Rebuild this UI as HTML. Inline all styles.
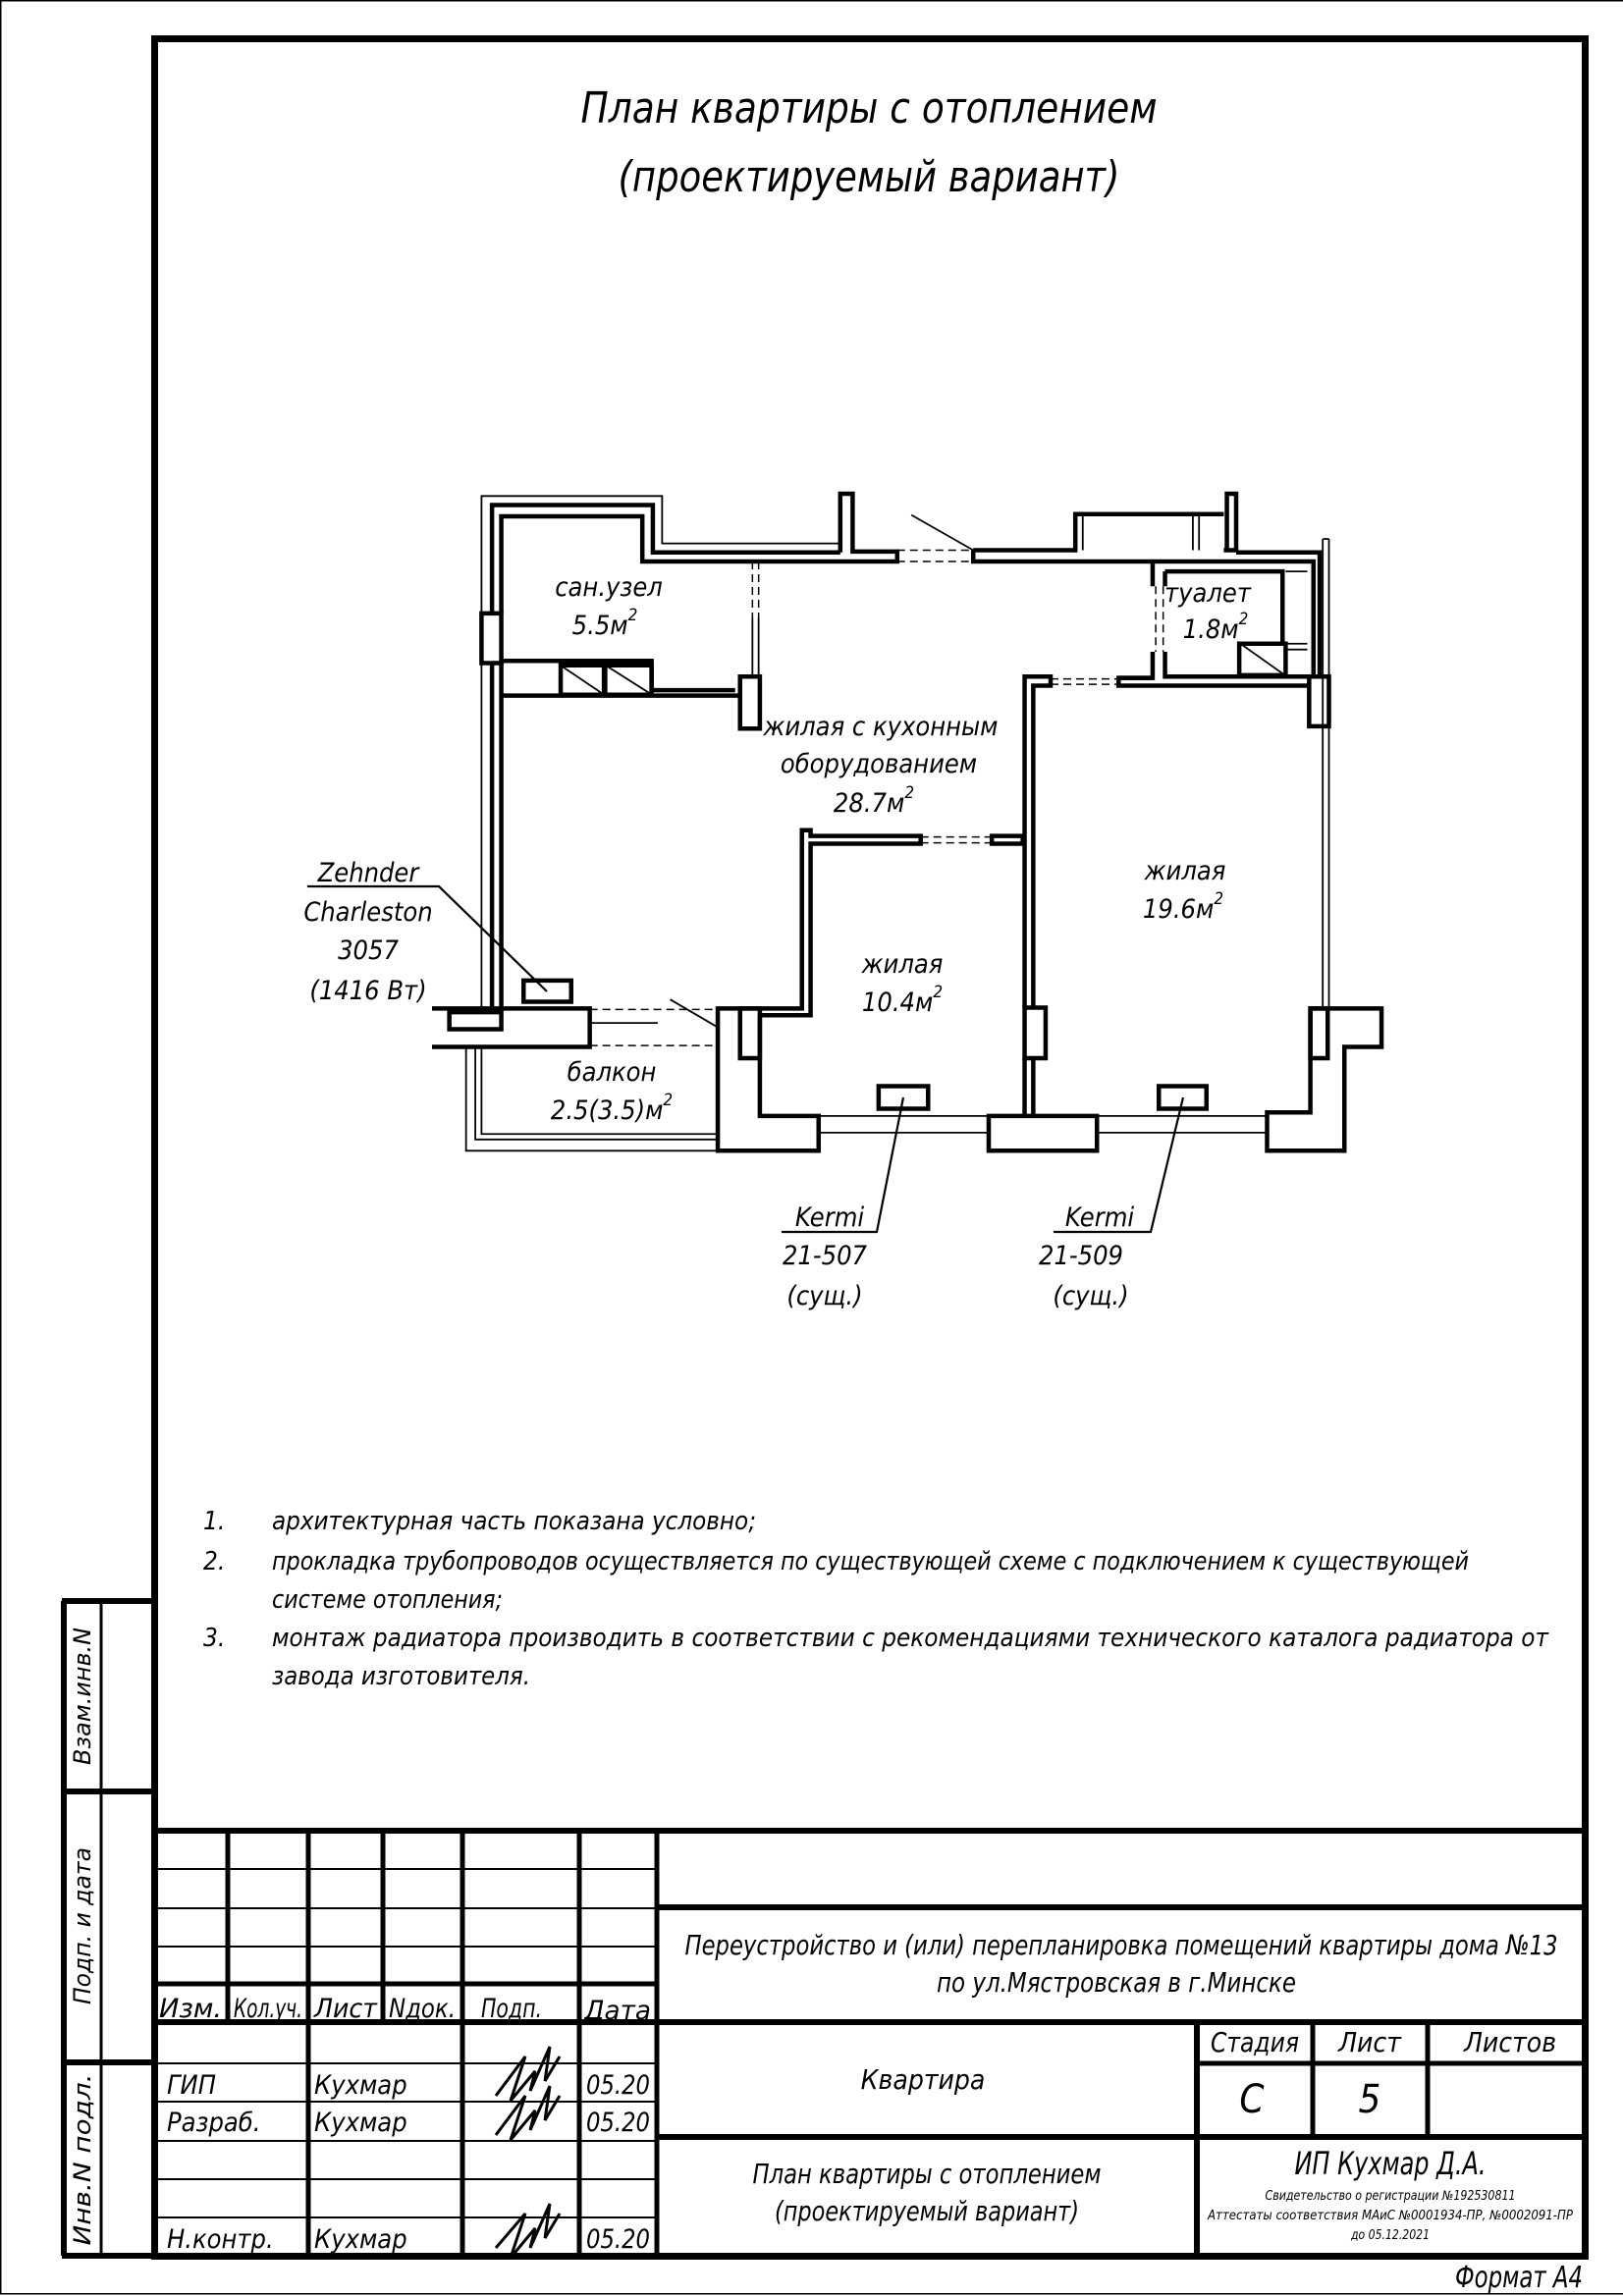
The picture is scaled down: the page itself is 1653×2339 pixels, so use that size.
<!DOCTYPE html>
<html><head><meta charset="utf-8"><style>
html,body{margin:0;padding:0;background:#fff}
svg{display:block}
text{font-family:"DejaVu Sans Condensed","Liberation Sans Narrow","Liberation Sans",sans-serif;font-style:italic;fill:#000}
</style></head><body>
<svg width="1653" height="2339" viewBox="0 0 1653 2339" xmlns="http://www.w3.org/2000/svg">
<!-- page border -->
<rect x="0.75" y="0.75" width="1660" height="2336" fill="none" stroke="#000" stroke-width="1.5"/>
<!-- main frame -->
<rect x="157.5" y="39.5" width="1457" height="2259" fill="none" stroke="#000" stroke-width="7"/>

<!-- title -->
<text x="885" y="125" font-size="44" text-anchor="middle" textLength="587" lengthAdjust="spacingAndGlyphs">План квартиры с отоплением</text>
<text x="885" y="195" font-size="44" text-anchor="middle" textLength="511" lengthAdjust="spacingAndGlyphs">(проектируемый вариант)</text>

<!-- PLAN -->
<g transform="translate(440,480) scale(0.63,0.46)" fill="none" stroke="#000">
 <g stroke-width="4.5" vector-effect="non-scaling-stroke">
  <path vector-effect="non-scaling-stroke" d="M97,315 V75 H357 V180 H660"/>
  <path vector-effect="non-scaling-stroke" d="M112,315 V100 H340 V200 H752 V178 H680 V50 H660 V180"/>
  <rect vector-effect="non-scaling-stroke" x="80" y="315" width="32" height="110"/>
  <path vector-effect="non-scaling-stroke" d="M97,425 V1190 M112,425 V1190"/>
  <path vector-effect="non-scaling-stroke" d="M112,420 H355 V485 H490 M112,497 H498"/>
  <rect vector-effect="non-scaling-stroke" x="498" y="455" width="32" height="115"/>
  <path vector-effect="non-scaling-stroke" d="M875,175 V200 H1165 M875,175 H1040 M1280,175 H1300 V50 H1285 V175"/>
  <path vector-effect="non-scaling-stroke" d="M1040,180 V95 H1280"/>
  <path vector-effect="non-scaling-stroke" d="M1300,180 H1435 V455 M1165,200 V255 M1185,222 V255 M1165,200 H1425 V455 M1185,222 H1375 V380"/>
  <path vector-effect="non-scaling-stroke" d="M1165,400 V458 H1110 V475 H1418 M1185,400 V455 H1418"/>
  <rect vector-effect="non-scaling-stroke" x="1418" y="455" width="32" height="110"/>
  <path vector-effect="non-scaling-stroke" d="M958,1188 V455 H1000 V475 H972 V1188"/>
  <rect vector-effect="non-scaling-stroke" x="958" y="1188" width="34" height="112"/>
  <path vector-effect="non-scaling-stroke" d="M958,1300 V1425 M972,1300 V1425"/>
  <path vector-effect="non-scaling-stroke" d="M1110,458 H1165"/>
  <path vector-effect="non-scaling-stroke" d="M530,1205 H612 V825 H790 V808 H612 V795 H598 V1190 H462 V1505 H625 V1428 H530 V1205"/>
  <rect vector-effect="non-scaling-stroke" x="498" y="1190" width="32" height="110"/>
  <path vector-effect="non-scaling-stroke" d="M905,808 H955 V825 H905 Z"/>
  <rect vector-effect="non-scaling-stroke" x="900" y="1428" width="175" height="77"/>
  <path vector-effect="non-scaling-stroke" d="M1350,1505 V1420 H1420 V1190 H1535 V1275 H1475 V1505 Z"/>
  <rect vector-effect="non-scaling-stroke" x="1420" y="1190" width="28" height="110"/>
  <path vector-effect="non-scaling-stroke" d="M0,1190 H255 V1275 H0"/>
  <rect vector-effect="non-scaling-stroke" x="28" y="1198" width="84" height="38"/>
  <rect vector-effect="non-scaling-stroke" x="148" y="1128" width="77" height="47"/>
  <rect vector-effect="non-scaling-stroke" x="722" y="1362" width="80" height="50"/>
  <rect vector-effect="non-scaling-stroke" x="1175" y="1362" width="77" height="50"/>
  <rect vector-effect="non-scaling-stroke" x="208" y="430" width="70" height="65"/>
  <rect vector-effect="non-scaling-stroke" x="280" y="430" width="75" height="65"/>
  <rect vector-effect="non-scaling-stroke" x="1305" y="382" width="75" height="70"/>
 </g>
 <g stroke-width="1.8">
  <path vector-effect="non-scaling-stroke" d="M80,315 V55 H372 V160 H660"/>
  <path vector-effect="non-scaling-stroke" d="M80,425 V1190"/>
  <path vector-effect="non-scaling-stroke" d="M518,325 V455 M528,325 V455"/>
  <path vector-effect="non-scaling-stroke" d="M1052,100 V175 M1230,100 V175 M1240,100 V175"/>
  <path vector-effect="non-scaling-stroke" d="M1440,150 V1190 M1450,150 V1190 M1440,150 H1450"/>
  <path vector-effect="non-scaling-stroke" d="M1380,382 H1415 M1380,395 H1415 M1380,222 H1415"/>
  <path vector-effect="non-scaling-stroke" d="M210,432 L275,492 M283,432 L352,492 M1310,385 L1375,448"/>
  <path vector-effect="non-scaling-stroke" d="M625,1465 H900 M1075,1465 H1350 M625,1428 H900 M1075,1428 H1350"/>
  <path vector-effect="non-scaling-stroke" d="M55,1275 V1505 H470 M70,1275 V1480 H462 M80,1275 V1468 H462"/>
  <path vector-effect="non-scaling-stroke" d="M255,1222 H365"/>
  <path vector-effect="non-scaling-stroke" d="M775,97 L875,175 M385,1170 L460,1230"/>
  <path vector-effect="non-scaling-stroke" d="M740,1420 L740,1420"/>
 </g>
 <g stroke-width="1.5" stroke-dasharray="8,5">
  <path vector-effect="non-scaling-stroke" d="M752,175 H875 M752,200 H875"/>
  <path vector-effect="non-scaling-stroke" d="M518,200 V325 M528,200 V325"/>
  <path vector-effect="non-scaling-stroke" d="M1170,255 V400 M1182,255 V400"/>
  <path vector-effect="non-scaling-stroke" d="M1000,460 H1110 M1000,472 H1110"/>
  <path vector-effect="non-scaling-stroke" d="M790,810 H905 M790,823 H905"/>
  <path vector-effect="non-scaling-stroke" d="M255,1192 H462 M255,1272 H462"/>
 </g>
</g>

<!-- leaders -->
<g stroke="#000" stroke-width="2.2" fill="none">
 <path d="M313,903 H447 L557,1010"/>
 <path d="M796,1255 H893 L920,1118"/>
 <path d="M1073,1255 H1172 L1205,1118"/>
</g>

<!-- plan labels -->
<g font-size="27" text-anchor="middle">
 <text x="375" y="898">Zehnder</text>
 <text x="375" y="938">Charleston</text>
 <text x="375" y="977">3057</text>
 <text x="375" y="1018">(1416 Вт)</text>
 <text x="845" y="1249">Kermi</text>
 <text x="840" y="1288">21-507</text>
 <text x="840" y="1329">(сущ.)</text>
 <text x="1120" y="1249">Kermi</text>
 <text x="1101" y="1288">21-509</text>
 <text x="1111" y="1329">(сущ.)</text>
 <text x="620" y="607">сан.узел</text>
 <text x="616" y="646">5.5м<tspan font-size="17" dy="-14">2</tspan></text>
 <text x="1230" y="613">туалет</text>
 <text x="1238" y="650">1.8м<tspan font-size="17" dy="-14">2</tspan></text>
 <text x="897" y="749">жилая с кухонным</text>
 <text x="895" y="787">оборудованием</text>
 <text x="890" y="827">28.7м<tspan font-size="17" dy="-14">2</tspan></text>
 <text x="1207" y="896">жилая</text>
 <text x="1205" y="935">19.6м<tspan font-size="17" dy="-14">2</tspan></text>
 <text x="919" y="991">жилая</text>
 <text x="919" y="1030">10.4м<tspan font-size="17" dy="-14">2</tspan></text>
 <text x="623" y="1101">балкон</text>
 <text x="623" y="1140">2.5(3.5)м<tspan font-size="17" dy="-14">2</tspan></text>
</g>

<!-- notes -->
<g font-size="26">
 <text x="207" y="1558">1.</text>
 <text x="207" y="1599">2.</text>
 <text x="207" y="1677">3.</text>
 <text x="277" y="1558" textLength="493" lengthAdjust="spacingAndGlyphs">архитектурная часть показана условно;</text>
 <text x="277" y="1599" textLength="1219" lengthAdjust="spacingAndGlyphs">прокладка трубопроводов осуществляется по существующей схеме с подключением к существующей</text>
 <text x="277" y="1638" textLength="235" lengthAdjust="spacingAndGlyphs">системе отопления;</text>
 <text x="277" y="1677" textLength="1300" lengthAdjust="spacingAndGlyphs">монтаж радиатора производить в соответствии с рекомендациями технического каталога радиатора от</text>
 <text x="277" y="1716" textLength="263" lengthAdjust="spacingAndGlyphs">завода изготовителя.</text>
</g>

<!-- left strip -->
<g stroke="#000" fill="none">
 <path d="M65,1631 V2298" stroke-width="6"/>
 <path d="M103,1631 V2298" stroke-width="3"/>
 <path d="M63,1631 H157 M63,1825 H157 M63,2101 H157 M63,2298 H157" stroke-width="6"/>
</g>
<g font-size="24" text-anchor="middle">
 <text transform="translate(92,1728) rotate(-90)" textLength="140" lengthAdjust="spacingAndGlyphs">Взам.инв.N</text>
 <text transform="translate(92,1962) rotate(-90)" textLength="160" lengthAdjust="spacingAndGlyphs">Подп. и дата</text>
 <text transform="translate(92,2200) rotate(-90)" textLength="175" lengthAdjust="spacingAndGlyphs">Инв.N подл.</text>
</g>

<!-- title block -->
<g stroke="#000" fill="none">
 <path d="M155,1865 H1614" stroke-width="6"/>
 <path d="M232,1865 V2060 M390,1865 V2060" stroke-width="5"/>
 <path d="M314,1865 V2298 M471,1865 V2298 M590,1865 V2298 M669,1865 V2298" stroke-width="5"/>
 <path d="M155,1904 H669 M155,1944 H669 M155,1983 H669" stroke-width="2"/>
 <path d="M155,2021 H669" stroke-width="5"/>
 <path d="M155,2060 H1614" stroke-width="6"/>
 <path d="M669,1943 H1614" stroke-width="6"/>
 <path d="M155,2102 H669 M155,2141 H669 M155,2181 H669 M155,2220 H669 M155,2259 H669" stroke-width="2"/>
 <path d="M669,2177 H1614" stroke-width="6"/>
 <path d="M1219,2060 V2298" stroke-width="6"/>
 <path d="M1219,2102 H1614" stroke-width="5"/>
 <path d="M1337,2060 V2177 M1454,2060 V2177" stroke-width="5"/>
</g>
<g font-size="27">
 <text x="162" y="2055" textLength="64" lengthAdjust="spacingAndGlyphs">Изм.</text>
 <text x="238" y="2055" textLength="70" lengthAdjust="spacingAndGlyphs">Кол.уч.</text>
 <text x="320" y="2055" textLength="64" lengthAdjust="spacingAndGlyphs">Лист</text>
 <text x="396" y="2055" textLength="68" lengthAdjust="spacingAndGlyphs">Nдок.</text>
 <text x="490" y="2055" textLength="62" lengthAdjust="spacingAndGlyphs">Подп.</text>
 <text x="595" y="2057" textLength="68" lengthAdjust="spacingAndGlyphs">Дата</text>
 <text x="170" y="2133">ГИП</text>
 <text x="170" y="2171">Разраб.</text>
 <text x="170" y="2290">Н.контр.</text>
 <text x="320" y="2133">Кухмар</text>
 <text x="320" y="2171">Кухмар</text>
 <text x="320" y="2290">Кухмар</text>
 <text x="597" y="2133" textLength="65" lengthAdjust="spacingAndGlyphs">05.20</text>
 <text x="597" y="2171" textLength="65" lengthAdjust="spacingAndGlyphs">05.20</text>
 <text x="597" y="2290" textLength="65" lengthAdjust="spacingAndGlyphs">05.20</text>
</g>
<g stroke="#000" stroke-width="3" fill="none">
 <path d="M505,2135 L535,2095 L520,2140 L545,2110 L540,2130 L560,2085 L555,2120 L570,2095"/>
 <path d="M505,2175 L535,2135 L520,2180 L545,2150 L540,2170 L560,2125 L555,2160 L570,2135"/>
 <path d="M505,2290 L535,2255 L520,2300 L545,2270 L540,2290 L560,2245 L555,2280 L570,2255"/>
</g>
<g font-size="28" text-anchor="middle">
 <text x="1142" y="1991" textLength="889" lengthAdjust="spacingAndGlyphs">Переустройство и (или) перепланировка помещений квартиры дома №13</text>
 <text x="1137" y="2029" textLength="366" lengthAdjust="spacingAndGlyphs">по ул.Мястровская в г.Минске</text>
 <text x="940" y="2128">Квартира</text>
 <text x="1278" y="2090" textLength="90" lengthAdjust="spacingAndGlyphs">Стадия</text>
 <text x="1395" y="2090">Лист</text>
 <text x="1538" y="2090">Листов</text>
 <text x="1275" y="2152" font-size="40">С</text>
 <text x="1395" y="2152" font-size="40">5</text>
 <text x="944" y="2224" textLength="355" lengthAdjust="spacingAndGlyphs">План квартиры с отоплением</text>
 <text x="944" y="2262" textLength="310" lengthAdjust="spacingAndGlyphs">(проектируемый вариант)</text>
 <text x="1416" y="2215" font-size="32" textLength="195" lengthAdjust="spacingAndGlyphs">ИП Кухмар Д.А.</text>
 <text x="1416" y="2241" font-size="13" textLength="255" lengthAdjust="spacingAndGlyphs">Свидетельство о регистрации №192530811</text>
 <text x="1416" y="2261" font-size="13" textLength="372" lengthAdjust="spacingAndGlyphs">Аттестаты соответствия МАиС №0001934-ПР, №0002091-ПР</text>
 <text x="1416" y="2281" font-size="13" textLength="80" lengthAdjust="spacingAndGlyphs">до 05.12.2021</text>
</g>
<text x="1612" y="2330" font-size="30" text-anchor="end" textLength="130" lengthAdjust="spacingAndGlyphs">Формат А4</text>
</svg>
</body></html>
